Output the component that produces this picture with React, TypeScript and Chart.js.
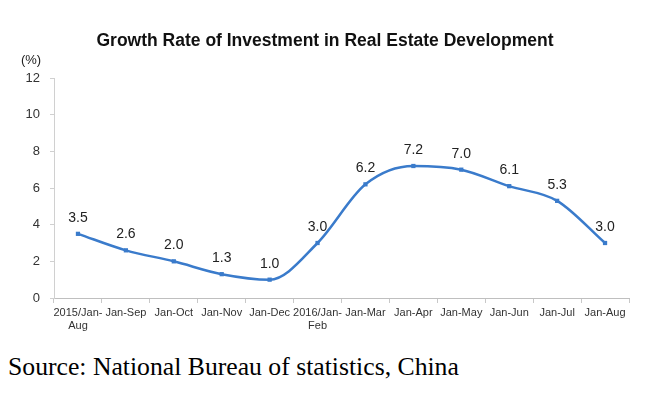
import React, { useEffect, useRef } from "react";
import { Chart, registerables } from "chart.js";

Chart.register(...registerables);

const categories: (string | string[])[] = [
  ["2015/Jan-", "Aug"],
  "Jan-Sep",
  "Jan-Oct",
  "Jan-Nov",
  "Jan-Dec",
  ["2016/Jan-", "Feb"],
  "Jan-Mar",
  "Jan-Apr",
  "Jan-May",
  "Jan-Jun",
  "Jan-Jul",
  "Jan-Aug",
];
const growthRate: number[] = [3.5, 2.6, 2.0, 1.3, 1.0, 3.0, 6.2, 7.2, 7.0, 6.1, 5.3, 3.0];
const yTicks: number[] = [0, 2, 4, 6, 8, 10, 12];

const titleText = "Growth Rate of Investment in Real Estate Development";
const unitText = "(%)";
const sourceText = "Source: National Bureau of statistics, China";

const LINE_COLOR = "#3a7bcb";

const labelPlugin = {
  id: "valueLabels",
  afterDatasetsDraw(chart: any) {
    const ctx = chart.ctx;
    const meta = chart.getDatasetMeta(0);
    ctx.save();
    ctx.font = "14px Arial, 'Liberation Sans', sans-serif";
    ctx.fillStyle = "#222";
    ctx.textAlign = "center";
    ctx.textBaseline = "bottom";
    meta.data.forEach((pt: any, i: number) => {
      const v = growthRate[i];
      ctx.fillText(v.toFixed(1), pt.x, pt.y - 9);
    });
    // unit label
    ctx.textAlign = "center";
    ctx.textBaseline = "middle";
    ctx.font = "13px Arial, 'Liberation Sans', sans-serif";
    ctx.fillStyle = "#222";
    ctx.fillText(unitText, 23, chart.chartArea.top - 18);
    // title
    ctx.font = "bold 17.5px Arial, 'Liberation Sans', sans-serif";
    ctx.fillStyle = "#111";
    ctx.fillText(titleText, 317, 33);
    ctx.restore();
  },
};

export default function App() {
  const ref = useRef<HTMLCanvasElement>(null);
  useEffect(() => {
    if (!ref.current) return;
    const chart = new Chart(ref.current, {
      type: "line",
      data: {
        labels: categories,
        datasets: [
          {
            data: growthRate,
            borderColor: LINE_COLOR,
            backgroundColor: LINE_COLOR,
            borderWidth: 2.5,
            pointStyle: "rect",
            pointRadius: 3,
            pointBorderWidth: 0,
            cubicInterpolationMode: "monotone",
            fill: false,
          },
        ],
      },
      options: {
        responsive: false,
        animation: false,
        layout: { padding: { left: 0, right: 11, top: 70, bottom: 0 } },
        plugins: {
          legend: { display: false },
          tooltip: { enabled: false },
          title: { display: false },
        },
        scales: {
          x: {
            type: "category",
            offset: true,
            grid: {
              display: true,
              offset: true,
              drawOnChartArea: false,
              drawTicks: true,
              tickLength: 5,
              color: "#c8c8c8",
            },
            border: { display: true, color: "#bfbfbf", width: 1 },
            ticks: {
              autoSkip: false,
              maxRotation: 0,
              minRotation: 0,
              color: "#333",
              padding: 3,
              font: { family: "Arial, 'Liberation Sans', sans-serif", size: 11 },
            },
            afterFit(scale: any) {
              scale.height = 35;
            },
          },
          y: {
            min: 0,
            max: 12,
            afterBuildTicks(scale: any) {
              scale.ticks = yTicks.map((v) => ({ value: v }));
            },
            grid: {
              display: true,
              drawOnChartArea: false,
              drawTicks: true,
              tickLength: 4,
              color: "#d0d0d0",
            },
            border: { display: true, color: "#d0d0d0", width: 1 },
            ticks: {
              color: "#333",
              padding: 10,
              font: { family: "Arial, 'Liberation Sans', sans-serif", size: 13 },
            },
            afterFit(scale: any) {
              scale.width = 46;
            },
          },
        },
      },
      plugins: [labelPlugin],
    });
    return () => chart.destroy();
  }, []);

  return (
    <div style={{ position: "relative", width: 632, height: 380 }}>
      <canvas ref={ref} width={632} height={325} style={{ display: "block" }} />
      <div
        style={{
          position: "absolute",
          left: 0,
          top: 344,
          fontFamily: "'Liberation Serif', 'Times New Roman', serif",
          fontSize: 25.7,
          lineHeight: "30px",
          color: "#000",
          whiteSpace: "nowrap",
        }}
      >
        {sourceText}
      </div>
    </div>
  );
}
